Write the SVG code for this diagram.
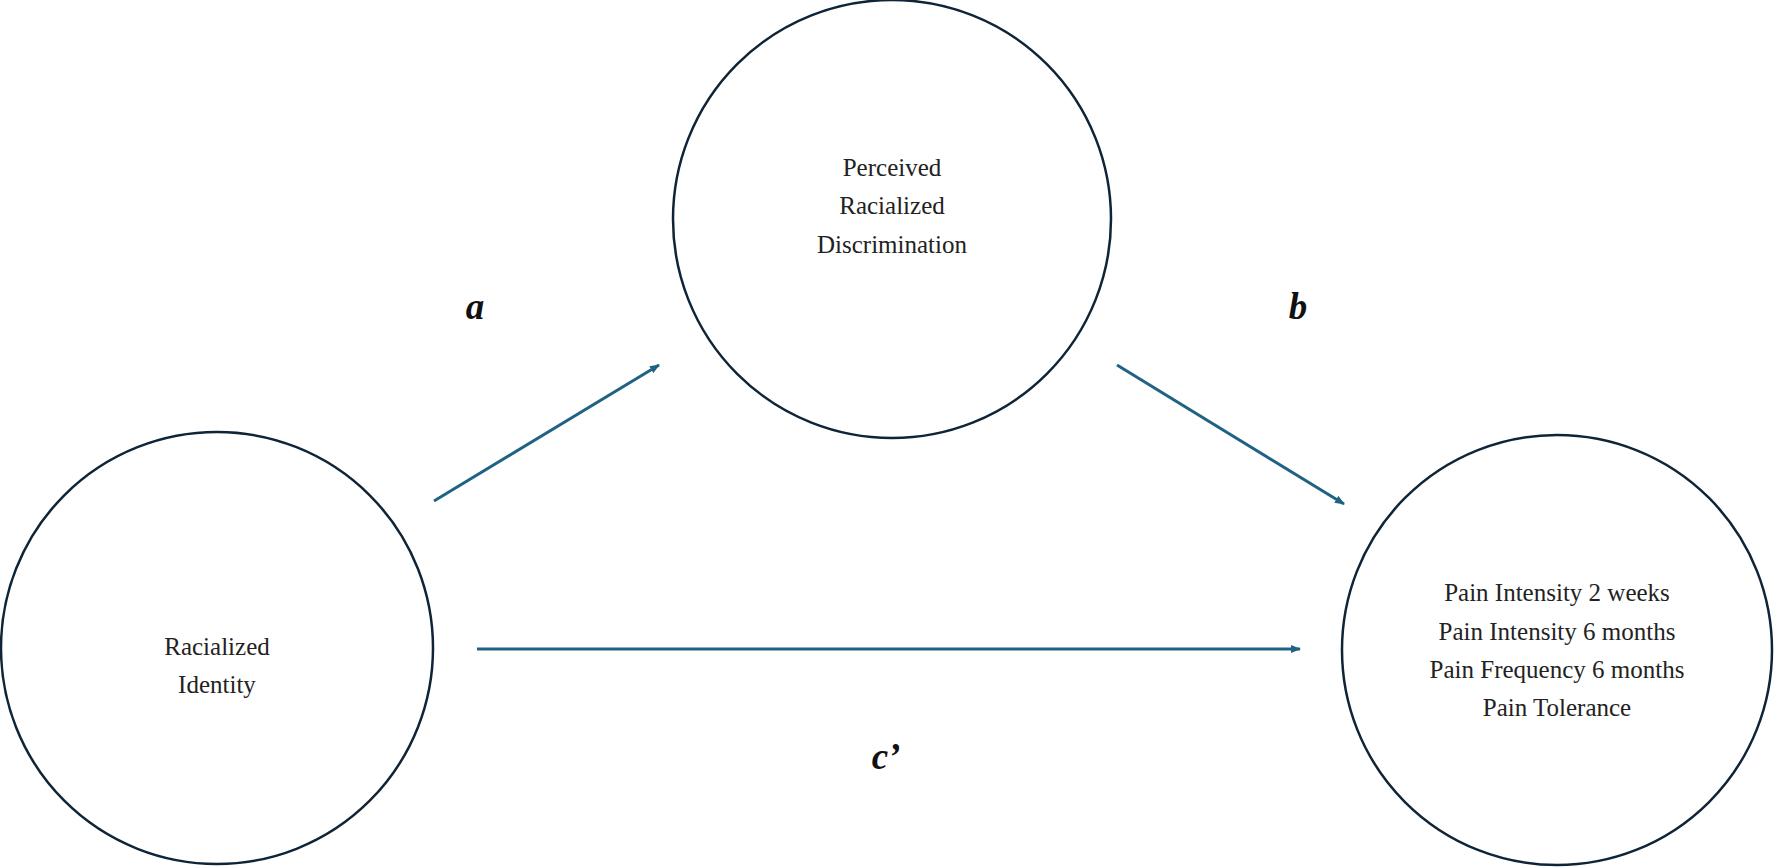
<svg xmlns="http://www.w3.org/2000/svg" width="1775" height="867" viewBox="0 0 1775 867">
<style>
.n{fill:#fff;stroke:#0f2537;stroke-width:2.5}
.t{font-family:"Liberation Serif",serif;font-size:25px;fill:#222;text-anchor:middle;dominant-baseline:central}
.l{font-family:"Liberation Serif",serif;font-size:37px;font-weight:bold;font-style:italic;fill:#111;text-anchor:middle;dominant-baseline:central}
.c{stroke:#1f6283;stroke-width:3;fill:none;marker-end:url(#ah)}
</style>
<defs><marker id="ah" markerWidth="10" markerHeight="8" refX="9" refY="4" orient="auto" markerUnits="userSpaceOnUse" viewBox="0 0 10 8"><path d="M0,0 L10,4 L0,8 Z" fill="#1f6283"/></marker></defs>
<rect width="1775" height="867" fill="#fff"/>
<g id="connectors">
<line class="c" x1="434" y1="501" x2="659" y2="365"/>
<line class="c" x1="1117" y1="365" x2="1344" y2="504"/>
<line class="c" x1="477" y1="649" x2="1300" y2="649"/>
</g>
<g id="n1"><circle class="n" cx="217" cy="648" r="216"/><text class="t" x="217" y="646">Racialized</text><text class="t" x="217" y="684">Identity</text></g>
<g id="n2"><circle class="n" cx="892" cy="219" r="219"/><text class="t" x="892" y="167">Perceived</text><text class="t" x="892" y="205">Racialized</text><text class="t" x="892" y="244">Discrimination</text></g>
<g id="n3"><circle class="n" cx="1557" cy="650" r="215"/><text class="t" x="1557" y="592">Pain Intensity 2 weeks</text><text class="t" x="1557" y="631">Pain Intensity 6 months</text><text class="t" x="1557" y="669">Pain Frequency 6 months</text><text class="t" x="1557" y="707">Pain Tolerance</text></g>
<g id="labels"><text class="l" x="475" y="306">a</text><text class="l" x="1298" y="306">b</text><text class="l" x="886" y="756">c’</text></g>
</svg>
